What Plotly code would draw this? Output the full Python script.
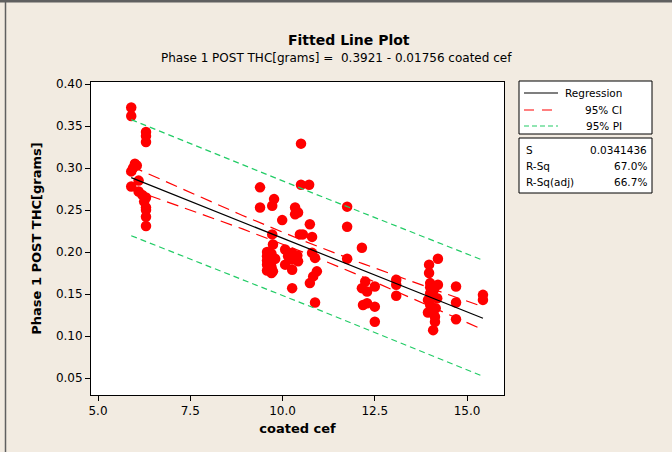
import numpy as np
import plotly.graph_objects as go

# ---- data ----
coated_cef = [
    5.90, 5.90, 6.30, 6.30, 6.30, 6.00, 6.05, 5.95, 5.90, 6.10, 5.90, 6.10, 6.20, 6.30, 6.25, 6.30, 6.30, 6.30, 6.30,
    10.50, 10.50, 10.72, 9.39, 9.39, 9.77, 9.72, 10.34, 10.42, 10.34, 9.99, 10.74, 10.47, 10.55, 10.80, 9.72, 9.74,
    9.58, 9.58, 9.58, 9.58, 9.58, 9.70, 9.70, 9.70, 9.70, 9.74, 9.80, 10.07, 10.26, 10.26, 10.42, 10.07, 10.26,
    10.80, 10.88, 10.93, 10.83, 10.74, 10.26, 10.88, 10.15, 10.40,
    11.75, 11.75, 12.15, 11.75, 12.24, 12.15, 12.29, 12.50, 12.18, 12.29, 12.50, 12.50,
    13.08, 13.08, 13.08,
    14.21, 13.97, 13.97, 14.00, 14.21, 14.00, 14.10, 13.94, 14.19, 14.00, 13.94, 14.13, 14.13, 14.08, 14.05, 14.15, 14.00,
    14.70, 14.70, 14.70, 15.43, 15.43,
]
post_thc = [
    0.372, 0.362, 0.343, 0.338, 0.331, 0.305, 0.303, 0.300, 0.296, 0.285, 0.278, 0.272, 0.268, 0.265, 0.260, 0.253, 0.250, 0.242, 0.231,
    0.329, 0.280, 0.280, 0.277, 0.253, 0.263, 0.255, 0.253, 0.247, 0.245, 0.238, 0.233, 0.221, 0.221, 0.218, 0.221, 0.209,
    0.200, 0.195, 0.190, 0.185, 0.178, 0.198, 0.188, 0.182, 0.175, 0.177, 0.192, 0.203, 0.199, 0.191, 0.189, 0.185, 0.179,
    0.199, 0.193, 0.177, 0.171, 0.163, 0.157, 0.140, 0.195, 0.196,
    0.254, 0.230, 0.205, 0.192, 0.165, 0.157, 0.153, 0.159, 0.137, 0.139, 0.135, 0.117,
    0.167, 0.161, 0.148,
    0.192, 0.185, 0.175, 0.163, 0.161, 0.151, 0.155, 0.143, 0.145, 0.137, 0.128, 0.123, 0.117, 0.107, 0.147, 0.133, 0.158,
    0.159, 0.140, 0.120, 0.149, 0.143,
]

# reported regression statistics
b0 = 0.3921
b1 = -0.01756
S = 0.0341436
R_SQ = "67.0%"
R_SQ_ADJ = "66.7%"
T_CRIT = 1.984  # t(0.975, n-2) for n ~ 100

x_ticks = [5.0, 7.5, 10.0, 12.5, 15.0]
y_ticks = [0.05, 0.10, 0.15, 0.20, 0.25, 0.30, 0.35, 0.40]

# ---- bands computed from the data ----
x = np.array(coated_cef)
n = len(x)
xbar = x.mean()
sxx = ((x - xbar) ** 2).sum()
xg = np.linspace(x.min(), x.max(), 80)
fit = b0 + b1 * xg
ci = T_CRIT * S * np.sqrt(1 / n + (xg - xbar) ** 2 / sxx)
pi = T_CRIT * S * np.sqrt(1 + 1 / n + (xg - xbar) ** 2 / sxx)

RED = "#FF0000"
GREEN = "#22CC66"
FONT = "DejaVu Sans"

fig = go.Figure()
fig.add_trace(go.Scatter(x=coated_cef, y=post_thc, mode="markers",
                         marker=dict(color=RED, size=10.5, line=dict(width=0)),
                         showlegend=False, cliponaxis=False))
fig.add_trace(go.Scatter(x=xg, y=fit, mode="lines", line=dict(color="black", width=1.2), showlegend=False))
for sgn in (1, -1):
    fig.add_trace(go.Scatter(x=xg, y=fit + sgn * ci, mode="lines",
                             line=dict(color=RED, width=1.2, dash="12px,7px"), showlegend=False))
    fig.add_trace(go.Scatter(x=xg, y=fit + sgn * pi, mode="lines",
                             line=dict(color=GREEN, width=1.2, dash="6px,4px"), showlegend=False))

# plot area geometry in pixels (for placing the custom legend)
L, R, T, B = 91, 504, 82, 395
W, H = 672, 452
def px(p):
    return (p - L) / (R - L)
def py(p):
    return (B - p) / (B - T)

shapes = [
    # outer window edges
    dict(type="line", xref="paper", yref="paper", x0=px(0), x1=px(W), y0=py(1), y1=py(1),
         line=dict(color="#606060", width=3)),
    dict(type="line", xref="paper", yref="paper", x0=px(5.5), x1=px(5.5), y0=py(0), y1=py(W),
         line=dict(color="#606060", width=1.5)),
    # legend boxes
    dict(type="rect", xref="paper", yref="paper", x0=px(519), x1=px(652), y0=py(134), y1=py(81),
         fillcolor="white", line=dict(color="black", width=1)),
    dict(type="rect", xref="paper", yref="paper", x0=px(519), x1=px(652), y0=py(193), y1=py(138),
         fillcolor="white", line=dict(color="black", width=1)),
    dict(type="line", xref="paper", yref="paper", x0=px(524), x1=px(558), y0=py(93), y1=py(93),
         line=dict(color="black", width=1.2)),
    dict(type="line", xref="paper", yref="paper", x0=px(524), x1=px(558), y0=py(110), y1=py(110),
         line=dict(color=RED, width=1.2, dash="10px,8px")),
    dict(type="line", xref="paper", yref="paper", x0=px(524), x1=px(558), y0=py(126), y1=py(126),
         line=dict(color=GREEN, width=1.2, dash="5px,3px")),
]

ann = []
def txt(t, xp, yp, anchor):
    ann.append(dict(text=t, xref="paper", yref="paper", x=px(xp), y=py(yp), xanchor=anchor,
                    yanchor="middle", showarrow=False, font=dict(family=FONT, size=10.5, color="black")))
txt("Regression", 624, 93, "right")
txt("95% CI", 624, 110, "right")
txt("95% PI", 624, 126, "right")
txt("S", 524, 150, "left")
txt("R-Sq", 524, 166, "left")
txt("R-Sq(adj)", 524, 182, "left")
txt(f"{S:.7f}", 649, 150, "right")
txt(R_SQ, 649, 166, "right")
txt(R_SQ_ADJ, 649, 182, "right")

ann.append(dict(text="<b>Fitted Line Plot</b>", xref="paper", yref="paper", x=px(349), y=py(40),
                xanchor="center", yanchor="middle", showarrow=False,
                font=dict(family=FONT, size=14, color="black")))
ann.append(dict(text=f"Phase 1 POST THC[grams] =  {b0:.4f} - {abs(b1):.5f} coated cef", xref="paper", yref="paper",
                x=px(336), y=py(58), xanchor="center", yanchor="middle", showarrow=False,
                font=dict(family=FONT, size=12, color="black")))

axis_common = dict(showline=True, linecolor="black", linewidth=1, mirror=True, ticks="outside",
                   ticklen=5, tickcolor="black", showgrid=False, zeroline=False,
                   tickfont=dict(family=FONT, size=12, color="black"))

fig.update_layout(
    width=W, height=H,
    margin=dict(l=L, r=W - R, t=T, b=H - B),
    paper_bgcolor="#F2EBE1",
    plot_bgcolor="white",
    shapes=shapes,
    annotations=ann,
    xaxis=dict(range=[4.81, 16.0], tickvals=x_ticks, ticktext=[f"{v:.1f}" for v in x_ticks],
               title=dict(text="<b>coated cef</b>", font=dict(family=FONT, size=13, color="black"), standoff=6),
               **axis_common),
    yaxis=dict(range=[0.0298, 0.4024], tickvals=y_ticks, ticktext=[f"{v:.2f}" for v in y_ticks],
               title=dict(text="<b>Phase 1 POST THC[grams]</b>", font=dict(family=FONT, size=13, color="black"),
                          standoff=11),
               **axis_common),
    showlegend=False,
)

fig.write_html("out.html")
